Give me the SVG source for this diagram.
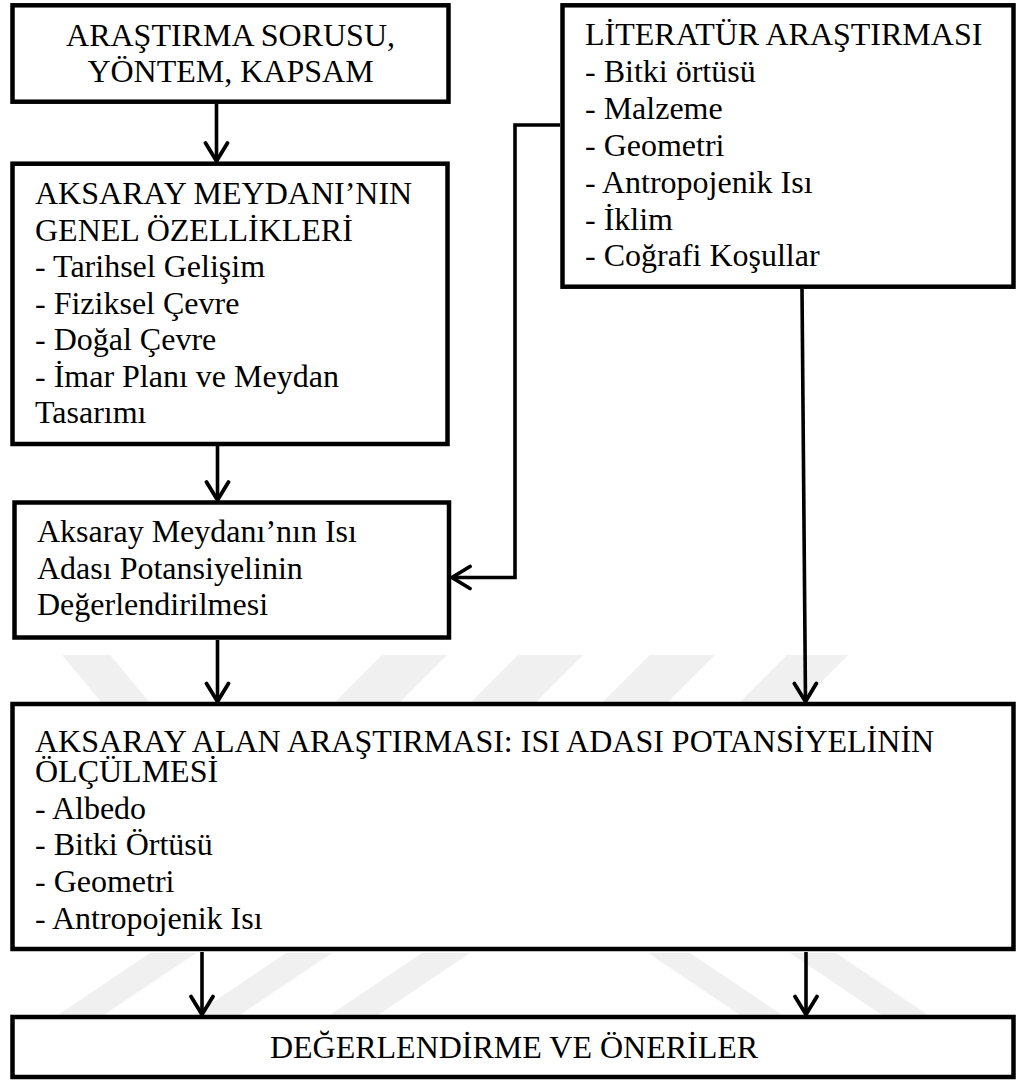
<svg xmlns="http://www.w3.org/2000/svg" width="1016" height="1084" viewBox="0 0 1016 1084">
<defs>
<style>
.box{fill:#ffffff;stroke:#000000;stroke-width:4.5}
text{font-family:'Liberation Serif','Times New Roman',Tinos,'DejaVu Serif',serif;font-size:32px;fill:#000000}
.c{text-anchor:middle}
.conn{fill:none;stroke:#000000;stroke-width:3.6}
.wm{fill:#f0f0f0;stroke:none}
</style>
<marker id="ah" markerUnits="userSpaceOnUse" viewBox="-22 -14 26 28" refX="0" refY="0" markerWidth="26" markerHeight="28" orient="auto">
<path d="M -18 -11 L 0 0 L -18 11" fill="none" stroke="#000000" stroke-width="3.8" stroke-linecap="round" stroke-linejoin="miter"/>
</marker>
</defs>
<rect width="1016" height="1084" fill="#ffffff"/>
<g id="watermark">
<polygon class="wm" points="62,655 110,655 150,703 102,703"/>
<polygon class="wm" points="382,655 447,655 399,703 334,703"/>
<polygon class="wm" points="518,655 583,655 535,703 470,703"/>
<polygon class="wm" points="650,655 715,655 667,703 602,703"/>
<polygon class="wm" points="787,655 848,655 800,703 739,703"/>
<polygon class="wm" points="150,953 196,953 104,1015 58,1015"/>
<polygon class="wm" points="286,953 332,953 240,1015 194,1015"/>
<polygon class="wm" points="422,953 470,953 378,1015 330,1015"/>
<polygon class="wm" points="648,953 690,953 782,1015 740,1015"/>
<polygon class="wm" points="790,953 836,953 928,1015 882,1015"/>
</g>
<g id="connectors">
<line class="conn" x1="216.5" y1="104" x2="216.5" y2="161" marker-end="url(#ah)"/>
<line class="conn" x1="217.5" y1="446" x2="217.5" y2="500" marker-end="url(#ah)"/>
<line class="conn" x1="217.5" y1="640" x2="217.5" y2="701.5" marker-end="url(#ah)"/>
<polyline class="conn" points="560,125 515,125 515,577.5 452,577.5" marker-end="url(#ah)"/>
<line class="conn" x1="802" y1="289" x2="805.5" y2="701.5" marker-end="url(#ah)"/>
<line class="conn" x1="202" y1="952" x2="202" y2="1014.5" marker-end="url(#ah)"/>
<line class="conn" x1="806" y1="952" x2="806" y2="1014.5" marker-end="url(#ah)"/>
</g>
<g id="node-arastirma">
<rect class="box" x="12.5" y="5.3" width="436" height="96.4"/>
<text class="c" x="230.5" y="45.5" font-family="Liberation Serif">ARAŞTIRMA SORUSU,</text>
<text class="c" x="230.5" y="82" font-family="Liberation Serif">YÖNTEM, KAPSAM</text>
</g>
<g id="node-genel">
<rect class="box" x="12.5" y="163.7" width="435" height="280.3"/>
<text x="35" y="204">AKSARAY MEYDANI’NIN</text>
<text x="35" y="240.5">GENEL ÖZELLİKLERİ</text>
<text x="35" y="277">- Tarihsel Gelişim</text>
<text x="35" y="313.5">- Fiziksel Çevre</text>
<text x="35" y="350">- Doğal Çevre</text>
<text x="35" y="386.5">- İmar Planı ve Meydan</text>
<text x="35" y="423">Tasarımı</text>
</g>
<g id="node-literatur">
<rect class="box" x="562.5" y="5.3" width="451" height="281.4"/>
<text x="585" y="45">LİTERATÜR ARAŞTIRMASI</text>
<text x="585" y="81.9">- Bitki örtüsü</text>
<text x="585" y="118.8">- Malzeme</text>
<text x="585" y="155.7">- Geometri</text>
<text x="585" y="192.6">- Antropojenik Isı</text>
<text x="585" y="229.5">- İklim</text>
<text x="585" y="266.4">- Coğrafi Koşullar</text>
</g>
<g id="node-isi-adasi">
<rect class="box" x="14.5" y="502.5" width="434.5" height="135"/>
<text x="37" y="542">Aksaray Meydanı’nın Isı</text>
<text x="37" y="578.5">Adası Potansiyelinin</text>
<text x="37" y="615">Değerlendirilmesi</text>
</g>
<g id="node-alan">
<rect class="box" x="12.5" y="704" width="1001" height="245"/>
<text x="35" y="752">AKSARAY ALAN ARAŞTIRMASI: ISI ADASI POTANSİYELİNİN</text>
<text x="35" y="782">ÖLÇÜLMESİ</text>
<text x="35" y="818.5">- Albedo</text>
<text x="35" y="855">- Bitki Örtüsü</text>
<text x="35" y="892">- Geometri</text>
<text x="35" y="929">- Antropojenik Isı</text>
</g>
<g id="node-degerlendirme">
<rect class="box" x="12.5" y="1017" width="1001" height="60"/>
<text class="c" x="514" y="1058">DEĞERLENDİRME VE ÖNERİLER</text>
</g>
</svg>
